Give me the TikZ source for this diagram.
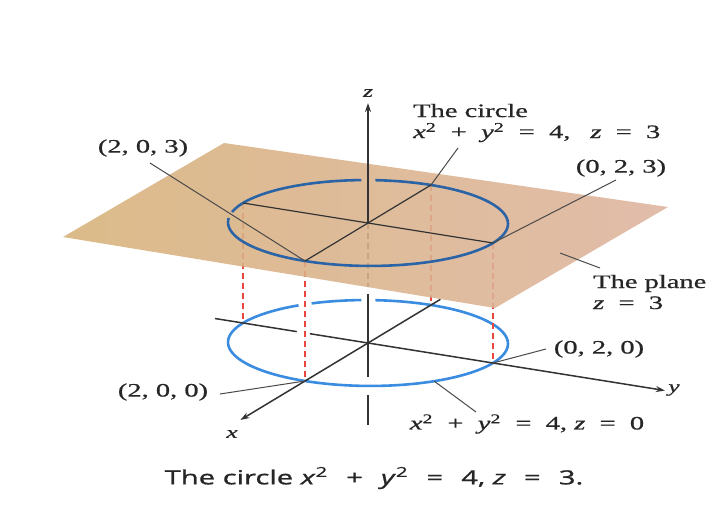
\documentclass[tikz,border=0pt]{standalone}
\usepackage{fontspec}
\setmainfont{Liberation Serif}[FakeBold=0.6]
\newfontfamily\capfont{Open Sans}[FakeBold=0.9]
\usetikzlibrary{arrows.meta}

\definecolor{axisgray}{HTML}{333333}
\definecolor{leadgray}{HTML}{4A4A4A}
\definecolor{dropred}{HTML}{E8463F}
\definecolor{lowblue}{HTML}{3A8CE0}
\definecolor{upblue}{HTML}{2A64A6}
\definecolor{planetan}{HTML}{D8B27A}
\definecolor{planepink}{HTML}{E4BEB4}
\definecolor{planerose}{HTML}{DDB39E}
\definecolor{inkgray}{HTML}{262626}

\newcommand{\wide}[1]{\scalebox{1.5}[1]{#1}}
\newcommand{\eqsp}{\hspace{0.5em}}
\newcommand{\capsp}{\hspace{0.62em}}

\begin{document}
\begin{tikzpicture}[x=1pt, y=-1pt]
\tikzstyle{axisline} = [line width=1.5pt, draw=axisgray]
\tikzstyle{leaderline} = [line width=1pt, draw=leadgray]
\tikzstyle{dropline} = [line width=1.6pt, draw=dropred, dash pattern=on 6pt off 4pt]
\tikzstyle{lowring} = [line width=2.6pt, draw=lowblue]
\tikzstyle{upring} = [line width=2.6pt, draw=upblue]
\tikzstyle{labeltext} = [font=\fontsize{19}{21}\selectfont, text=inkgray, inner sep=1pt]
\tikzstyle{axislabel} = [font=\fontsize{17}{19}\selectfont\itshape, text=inkgray, inner sep=1pt]
\tikzstyle{arrow} = [-{Stealth[length=9pt,width=6pt]}]

\useasboundingbox (0,0) rectangle (713,512);
\fill[white] (0,0) rectangle (713,512);

% Plane corners and leader ends
\coordinate (PL) at (63,237);
\coordinate (PT) at (224,143);
\coordinate (PR) at (668,207);
\coordinate (PB) at (495,308);
\coordinate (k203) at (150,163);
\coordinate (kcirc) at (458,148);
\coordinate (k023) at (616,180);
\coordinate (kplane) at (600,268);
\coordinate (onplane) at (560,253);
\coordinate (k020) at (546,349);
\coordinate (k200) at (220,394);
\coordinate (kcirc0) at (476,412);

\begin{scope}[shift={(368,343)}, x={(-31.5pt,-19pt)}, y={(62.5pt,-10pt)}, z={(0pt,40pt)}]
% Points
\coordinate (O0) at (0,0,0);
\coordinate (A0) at (2,0,0);
\coordinate (B0) at (0,2,0);
\coordinate (C0) at (-2,0,0);
\coordinate (D0) at (0,-2,0);
\coordinate (O3) at (0,0,3);
\coordinate (A3) at (2,0,3);
\coordinate (B3) at (0,2,3);
\coordinate (C3) at (-2,0,3);
\coordinate (D3) at (0,-2,3);
\coordinate (E0) at ({2*cos(55)},{2*sin(55)},0);
\coordinate (xtail) at (-2.3,0,0);
\coordinate (xtip) at (4.05,0,0);
\coordinate (ytail) at (0,-2.45,0);
\coordinate (ygapa) at (0,-1.14,0);
\coordinate (ygapb) at (0,-0.93,0);
\coordinate (ytip) at (0,4.75,0);
\coordinate (zplane) at (0,0,1.4);
\coordinate (zbelow) at (0,0,1.22);
\coordinate (zfronta) at (0,0,-0.85);
\coordinate (zfrontb) at (0,0,-1.3);
\coordinate (zend) at (0,0,-2.05);
\coordinate (ztip) at (0,0,6);

% Circle in the xy-plane
\draw[lowring] plot[domain=209.5:230.5, samples=25, smooth] ({2*cos(\x)},{2*sin(\x)},0);
\draw[lowring] plot[domain=236.5:563.7, samples=140, smooth] ({2*cos(\x)},{2*sin(\x)},0);

% Axes below the plane
\draw[axisline] (ytail) -- (ygapa);
\draw[axisline, arrow] (ygapb) -- (ytip);
\draw[dropline] (A3) -- (A0);
\draw[dropline] (B3) -- (B0);
\draw[dropline] (C3) -- (C0);
\draw[dropline] (D3) -- (D0);
\draw[axisline, dash pattern=on 6pt off 4pt] (O3) -- (zplane);
\draw[axisline] (zbelow) -- (O0) -- (zfronta);
\draw[axisline] (zfrontb) -- (zend);
\draw[axisline, arrow] (xtail) -- (xtip);

% The plane z = 3
\shade[left color=planetan, middle color=planepink, right color=planerose, fill opacity=0.88]
  (PL) -- (PT) -- (PR) -- (PB) -- cycle;

% Circle in the plane
\draw[upring] plot[domain=209.5:283, samples=30, smooth] ({2*cos(\x)},{2*sin(\x)},3);
\draw[upring] plot[domain=291:563.7, samples=140, smooth] ({2*cos(\x)},{2*sin(\x)},3);
\draw[axisline, line width=1.2pt] (A3) -- (C3);
\draw[axisline, line width=1.2pt] (D3) -- (B3);
\draw[axisline, arrow] (O3) -- (ztip);
\end{scope}

% Nodes
\node[labeltext] (lab203) at (143,148) {\wide{(2, 0, 3)}};
\node[labeltext, align=left, anchor=west] (labcirc) at (412,123)
  {\wide{The circle}\\\wide{\textit{x}\textsuperscript{2}\eqsp+\eqsp\textit{y}\textsuperscript{2}\eqsp=\eqsp4,\hspace{0.7em}\textit{z}\eqsp=\eqsp3}};
\node[labeltext] (lab023) at (621,168) {\wide{(0, 2, 3)}};
\node[labeltext, align=left, anchor=west] (labplane) at (592,292)
  {\wide{The plane}\\\wide{\textit{z}\eqsp=\eqsp3}};
\node[labeltext] (lab020) at (599,349) {\wide{(0, 2, 0)}};
\node[labeltext] (lab200) at (163,392) {\wide{(2, 0, 0)}};
\node[labeltext] (labcirc0) at (527,424)
  {\wide{\textit{x}\textsuperscript{2}\eqsp+\eqsp\textit{y}\textsuperscript{2}\eqsp=\eqsp4, \textit{z}\eqsp=\eqsp0}};
\node[axislabel] (labx) at (232,434) {\wide{x}};
\node[axislabel] (laby) at (674,390) {\wide{y}};
\node[axislabel] (labz) at (368,93) {\wide{z}};
\node[font=\capfont\fontsize{19.5}{22}\selectfont, text=inkgray] (caption) at (374,478)
  {\wide{The circle \textit{x}\textsuperscript{2}\capsp+\capsp\textit{y}\textsuperscript{2}\capsp=\capsp4, \textit{z}\capsp=\capsp3.}};

% Leaders
\draw[leaderline] (k203) -- (A3);
\draw[leaderline] (kcirc) -- (C3);
\draw[leaderline] (k023) -- (B3);
\draw[leaderline] (onplane) -- (kplane);
\draw[leaderline] (k020) -- (B0);
\draw[leaderline] (k200) -- (A0);
\draw[leaderline] (kcirc0) -- (E0);
\end{tikzpicture}
\end{document}
